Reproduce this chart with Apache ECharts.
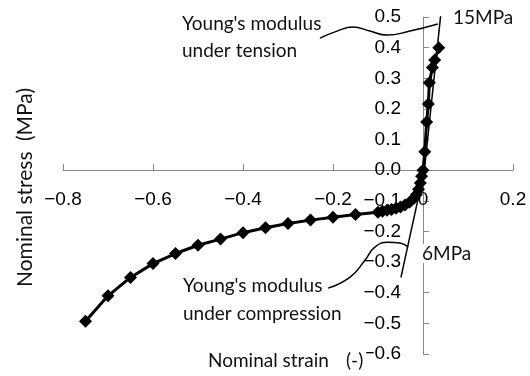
<html style="height: 100%">
<meta http-equiv=Content-Type content="text/html;charset=utf-8" />
<script type="text/javascript" src="https://cdn.jsdelivr.net/npm/echarts@6/dist/echarts.min.js"></script>

<script type="text/javascript">

	// measured curve: nominal strain (-) vs nominal stress (MPa)
	var strain = [-0.75, -0.70, -0.65, -0.60, -0.55, -0.50, -0.45, -0.40, -0.35, -0.30, -0.25, -0.20, -0.15, -0.10,
		-0.09, -0.08, -0.07, -0.06, -0.05, -0.04, -0.03, -0.02, -0.015, -0.01, -0.006, -0.003, 0,
		0.004, 0.008, 0.012, 0.014, 0.021, 0.026, 0.035];
	var stress = [-0.493, -0.41, -0.35, -0.305, -0.272, -0.245, -0.225, -0.204, -0.188, -0.174, -0.163, -0.154, -0.145, -0.137,
		-0.134, -0.131, -0.128, -0.124, -0.120, -0.114, -0.105, -0.092, -0.080, -0.062, -0.042, -0.020, 0,
		0.06, 0.157, 0.216, 0.285, 0.335, 0.36, 0.40];

	// tangent lines (Young's modulus)
	var tensionLineX = [0.003, 0.040];
	var tensionLineY = [0.0, 0.515];
	var compressLineX = [0.003, -0.049];
	var compressLineY = [0.0, -0.35];

	// leader curves from the labels to the tangent lines
	var tensionLeadX = [-0.229, -0.191, -0.156, -0.118, -0.080, -0.029, 0.033];
	var tensionLeadY = [0.431, 0.454, 0.467, 0.454, 0.441, 0.454, 0.477];
	var compressLeadX = [-0.211, -0.162, -0.129, -0.107, -0.078, -0.051, -0.033];
	var compressLeadY = [-0.385, -0.349, -0.294, -0.251, -0.235, -0.238, -0.251];

	function pairs(xs, ys) {
		var out = [];
		for (var i = 0; i < xs.length; i++) {
			out.push([xs[i], ys[i]]);
		}
		return out;
	}

	function minus(s) {
		return s.replace('-', '\u2212');
	}

	window.onload = function() {
		var myChart = echarts.init(document.getElementById('echart'));

		// plot box: x 63..513, y 17..354  -> zero lines at x=423, y=170
		var axisCommon = {
			type: 'value',
			splitLine: { show: false },
			axisLine: { show: true, onZero: false, lineStyle: { color: '#888', width: 1 } },
			axisTick: { show: true, inside: true, length: 6, lineStyle: { color: '#888' } }
		};

		function label(txt, x, y, extra) {
			var st = { text: txt, fontFamily: 'Lato', fontSize: 19, fill: '#111', verticalAlign: 'middle' };
			for (var k in extra) { st[k] = extra[k]; }
			return { type: 'text', left: x, top: y - 12, style: st, z: 100 };
		}

		function vlabel(txt, x, y, align) {
			return {
				type: 'text', x: x, y: y, rotation: Math.PI / 2,
				style: { text: txt, fontFamily: 'Lato', fontSize: 21, fill: '#111',
					align: align, verticalAlign: 'middle' },
				z: 100
			};
		}

		var leaderStyle = { color: '#000', width: 1.5 };

		myChart.setOption({
			animation: false,
			grid: { left: 63, right: 17, top: 17, bottom: 22, containLabel: false, outerBoundsMode: 'none' },
			xAxis: Object.assign({}, axisCommon, {
				min: -0.8, max: 0.2, interval: 0.2,
				position: 'bottom', offset: -184,
				axisLabel: {
					margin: 20, color: '#000', fontFamily: 'Liberation Sans', fontSize: 19,
					formatter: function(v) { return v === 0 ? '0' : minus(v.toFixed(1)); }
				}
			}),
			yAxis: Object.assign({}, axisCommon, {
				min: -0.6, max: 0.5, interval: 0.1,
				position: 'left', offset: -360,
				axisLabel: {
					margin: 22, color: '#000', fontFamily: 'Liberation Sans', fontSize: 19,
					formatter: function(v) { return minus(v.toFixed(1)); }
				}
			}),
			series: [
				{
					type: 'line', data: pairs(strain, stress),
					symbol: 'diamond', symbolSize: 13,
					itemStyle: { color: '#000' },
					lineStyle: { color: '#000', width: 3 }
				},
				{ type: 'line', data: pairs(tensionLineX, tensionLineY), symbol: 'none', silent: true, lineStyle: leaderStyle },
				{ type: 'line', data: pairs(compressLineX, compressLineY), symbol: 'none', silent: true, lineStyle: leaderStyle },
				{ type: 'line', data: pairs(tensionLeadX, tensionLeadY), symbol: 'none', smooth: true, silent: true, lineStyle: leaderStyle },
				{ type: 'line', data: pairs(compressLeadX, compressLeadY), symbol: 'none', smooth: true, silent: true, lineStyle: leaderStyle }
			],
			graphic: [
				label("Young's modulus", 182, 26, {}),
				label('under tension', 182, 53, {}),
				label('15MPa', 453, 20, {}),
				label('6MPa', 422, 256, { backgroundColor: '#fff' }),
				label("Young's modulus", 183, 288, {}),
				label('under compression', 183, 316, {}),
				label('Nominal strain', 208, 363, {}),
				label('(-)', 346, 363, { backgroundColor: '#fff', padding: [0, 3, 0, 0] }),
				vlabel('Nominal stress', 25, 287, 'left'),
				vlabel('(MPa)', 25, 88, 'right')
			]
		});
	};

</script>

<body style="height: 100%; margin: 0; background: #fff">
	<div id="echart" style="width: 530px; height: 376px"></div>
</body>
</html>
